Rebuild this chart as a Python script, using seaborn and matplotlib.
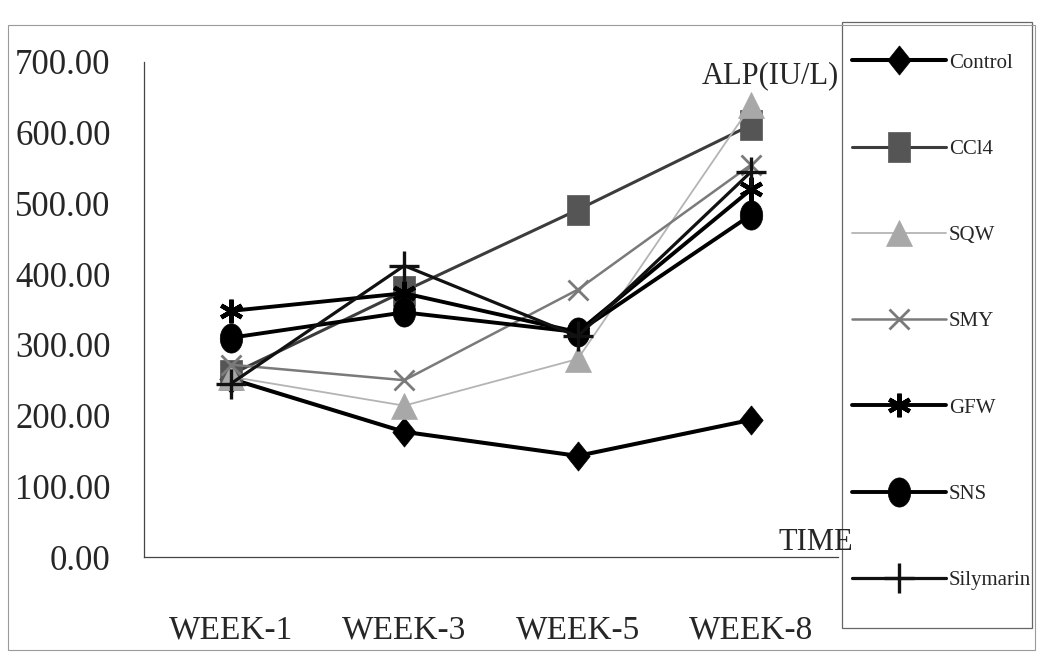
import numpy as np
import pandas as pd
import matplotlib
matplotlib.use("Agg")
import matplotlib.pyplot as plt
from matplotlib.patches import Rectangle
import seaborn as sns

# ALP (IU/L) measured at each time point for every treatment group
weeks = ["WEEK-1", "WEEK-3", "WEEK-5", "WEEK-8"]
control = [252, 177, 143, 194]
ccl4 = [258, 376, 491, 611]
sqw = [255, 214, 280, 639]
smy = [272, 250, 378, 555]
gfw = [348, 373, 318, 520]
sns_group = [310, 346, 318, 484]
silymarin = [245, 412, 312, 545]

groups = ["Control", "CCl4", "SQW", "SMY", "GFW", "SNS", "Silymarin"]
series = [control, ccl4, sqw, smy, gfw, sns_group, silymarin]

sns.set_style("white")
plt.rcParams["font.family"] = ["Liberation Serif", "DejaVu Serif"]

W, H = 1040, 657
fig = plt.figure(figsize=(W / 100, H / 100), dpi=100)
ax = fig.add_axes([144 / W, (H - 557) / H, 694 / W, 495 / H])

# tall marker shapes (taller than wide)
t = np.linspace(0, 2 * np.pi, 60)
ellipse = list(zip(0.77 * np.cos(t), np.sin(t)))
tall_square = [(-0.77, -1), (0.77, -1), (0.77, 1), (-0.77, 1), (-0.77, -1)]
tall_diamond = [(0, 1), (0.8, 0), (0, -1), (-0.8, 0), (0, 1)]

styles = {
    "Control":   dict(color="black", lw=2.9, marker=tall_diamond, ms=21, mfc="black", mec="black", mew=0.5),
    "CCl4":      dict(color="#3c3c3c", lw=2.2, marker=tall_square, ms=21, mfc="#555555", mec="#555555", mew=0.5),
    "SQW":       dict(color="#b4b4b4", lw=1.3, marker="^", ms=19, mfc="#a8a8a8", mec="#a8a8a8", mew=0.5),
    "SMY":       dict(color="#7a7a7a", lw=1.8, marker="x", ms=15, mfc="#7a7a7a", mec="#7a7a7a", mew=2.0),
    "GFW":       dict(color="black", lw=2.8, marker=(6, 2, 0), ms=17, mfc="black", mec="black", mew=3.2),
    "SNS":       dict(color="black", lw=2.8, marker=ellipse, ms=21, mfc="black", mec="black", mew=0.5),
    "Silymarin": dict(color="#111111", lw=2.3, marker="+", ms=22, mfc="black", mec="#111111", mew=2.4),
}

for name, vals in zip(groups, series):
    st = styles[name]
    df = pd.DataFrame({"week": weeks, "ALP": vals})
    sns.lineplot(data=df, x="week", y="ALP", ax=ax, sort=False, label=name,
                 color=st["color"], linewidth=st["lw"], marker=st["marker"],
                 markersize=st["ms"], markerfacecolor=st["mfc"],
                 markeredgecolor=st["mec"], markeredgewidth=st["mew"])

ax.set_xlim(-0.5, 3.5)
ax.set_ylim(0, 700)
ax.set_xlabel("")
ax.set_ylabel("")
ax.grid(False)

for side in ["top", "right"]:
    ax.spines[side].set_visible(False)
for side in ["left", "bottom"]:
    ax.spines[side].set_color("#444444")
    ax.spines[side].set_linewidth(0.9)

ax.set_yticks(np.arange(0, 701, 100))
ax.set_yticklabels([f"{v:.2f}" for v in np.arange(0, 701, 100)], fontsize=25)
ax.tick_params(axis="y", direction="in", length=6, width=0.8, color="#444444", pad=24)

ax.set_xticks(range(len(weeks)))
ax.set_xticklabels(weeks, fontsize=24)
ax.set_xticks([0.5, 1.5, 2.5], minor=True)
ax.tick_params(axis="x", which="major", length=0, pad=42)
ax.tick_params(axis="x", which="minor", direction="in", length=9, width=0.8, color="#444444")

fig.text(770 / W, 1 - 76 / H, "ALP(IU/L)", fontsize=22, ha="center", va="center")
fig.text(816 / W, 1 - 543 / H, "TIME", fontsize=22, ha="center", va="center")

# legend box and outer frame
fig.add_artist(Rectangle((842 / W, 1 - 628 / H), (1032 - 842) / W, (628 - 22) / H,
                         transform=fig.transFigure, fill=False, ec="#666666", lw=0.9))
fig.add_artist(Rectangle((8 / W, 1 - 650 / H), (1035 - 8) / W, (650 - 25) / H,
                         transform=fig.transFigure, fill=False, ec="#9a9a9a", lw=0.8))

handles, labels = ax.get_legend_handles_labels()
ax.legend(handles, labels, loc="upper left", bbox_to_anchor=(852 / W, 1 - 53 / H),
          bbox_transform=fig.transFigure, frameon=False, fontsize=15,
          handlelength=4.5, handletextpad=0.15, labelspacing=3.2,
          borderpad=0, borderaxespad=0, numpoints=1)

fig.savefig("out.png", dpi=100)
